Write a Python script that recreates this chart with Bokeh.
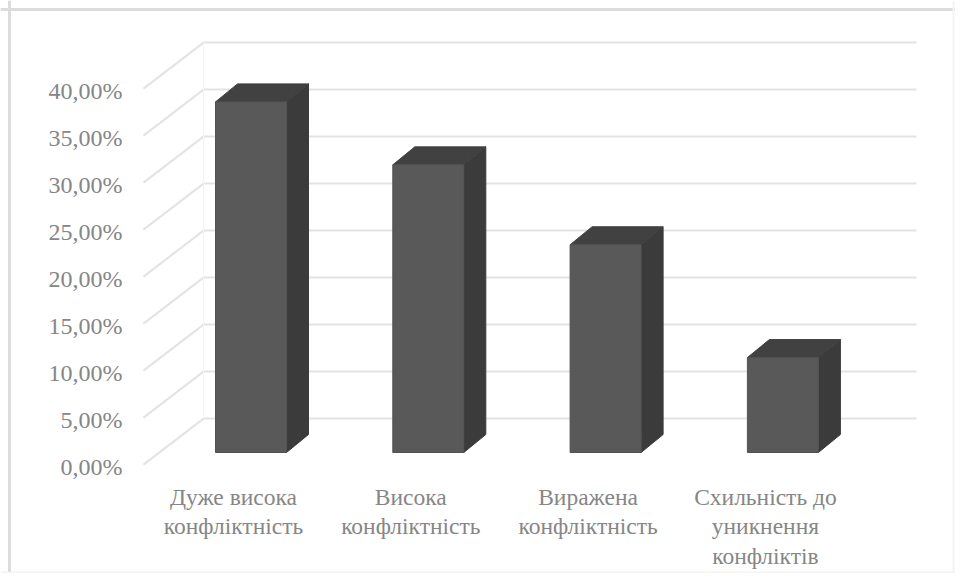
from bokeh.plotting import figure
from bokeh.models import Range1d, LinearAxis, FixedTicker, Span
from bokeh.embed import file_html
from bokeh.resources import INLINE

categories = ["Дуже висока\nконфліктність", "Висока\nконфліктність",
              "Виражена\nконфліктність", "Схильність до\nуникнення\nконфліктів"]
values = [37.3, 30.6, 22.1, 10.1]
y_ticks = [0, 5, 10, 15, 20, 25, 30, 35, 40]
y_labels = ["0,00%", "5,00%", "10,00%", "15,00%", "20,00%", "25,00%", "30,00%", "35,00%", "40,00%"]

W, H = 955, 573
PX_X = 177.3          # pixels per category
PX_Y = 9.4            # pixels per percent
X0_PX, Y0_PX = 233, 466   # image pixel of category 0 / of 0 %

def ux(px):
    return px / PX_X
def uy(px):
    return px / PX_Y
def xp(px):
    return ux(px - X0_PX)
def yp(px):
    return uy(Y0_PX - px)

p = figure(width=W, height=H, output_backend="svg", toolbar_location=None,
           x_range=Range1d(xp(0), xp(W)),
           y_range=Range1d(yp(H), yp(0)),
           min_border=0, min_border_left=0, min_border_right=0,
           min_border_top=0, min_border_bottom=0,
           x_axis_type=None, y_axis_type=None)
p.grid.visible = False
p.background_fill_color = "white"
p.border_fill_color = "white"
p.outline_line_color = None

p.add_layout(Span(location=xp(9), dimension="height", line_color="#dcdcdc", line_width=3))
p.add_layout(Span(location=yp(9), dimension="width", line_color="#dcdcdc", line_width=3))
p.add_layout(Span(location=xp(953), dimension="height", line_color="#f4f4f4", line_width=2))
p.add_layout(Span(location=yp(572), dimension="width", line_color="#f4f4f4", line_width=2))

# 3D wall: floor-to-back gridlines
front_x, back_x, right_x = xp(143), xp(203), xp(916)
rise = uy(46)
GRID = "#e3e3e3"
p.multi_line([[front_x, back_x, right_x] for _ in y_ticks],
             [[t + 0.2, t + 0.2 + rise, t + 0.2 + rise] for t in y_ticks],
             line_color=GRID, line_width=2)
p.segment([back_x], [rise + 0.2], [back_x], [40 + rise + 0.2], line_color="#f3f3f3", line_width=1)

# 3D bars
bar_w = ux(71)
offset = ux(17.5)      # front face centre relative to the label centre
dx, dy = ux(22), uy(18)
base = uy(14)

fx0 = [i + offset - bar_w / 2 for i in range(len(values))]
fx1 = [a + bar_w for a in fx0]
tops = [base + v for v in values]

p.patches([[b, b + dx, b + dx, b] for b in fx1],
          [[base, base + dy, t + dy, t] for t in tops],
          fill_color="#3b3b3b", line_color="#3b3b3b")
p.patches([[a, a + dx, b + dx, b] for a, b in zip(fx0, fx1)],
          [[t, t + dy, t + dy, t] for t in tops],
          fill_color="#414141", line_color="#414141")
p.quad(left=fx0, right=fx1, bottom=[base] * len(values), top=tops,
       fill_color="#595959", line_color="#525252")

FONT = "Liberation Serif"
TXT = "#868686"

yax = LinearAxis(ticker=FixedTicker(ticks=y_ticks),
                 major_label_overrides=dict(zip(y_ticks, y_labels)),
                 fixed_location=xp(131))
xax = LinearAxis(ticker=FixedTicker(ticks=list(range(len(categories)))),
                 major_label_overrides=dict(enumerate(categories)),
                 fixed_location=yp(474))
for ax, size in ((yax, "24px"), (xax, "23.5px")):
    ax.axis_line_color = None
    ax.major_tick_line_color = None
    ax.minor_tick_line_color = None
    ax.major_label_text_font = FONT
    ax.major_label_text_font_size = size
    ax.major_label_text_color = TXT
    ax.major_label_text_line_height = 1.15
    ax.major_label_standoff = 3
p.add_layout(yax, "left")
p.add_layout(xax, "below")

open("out.html", "w").write(file_html(p, INLINE))
